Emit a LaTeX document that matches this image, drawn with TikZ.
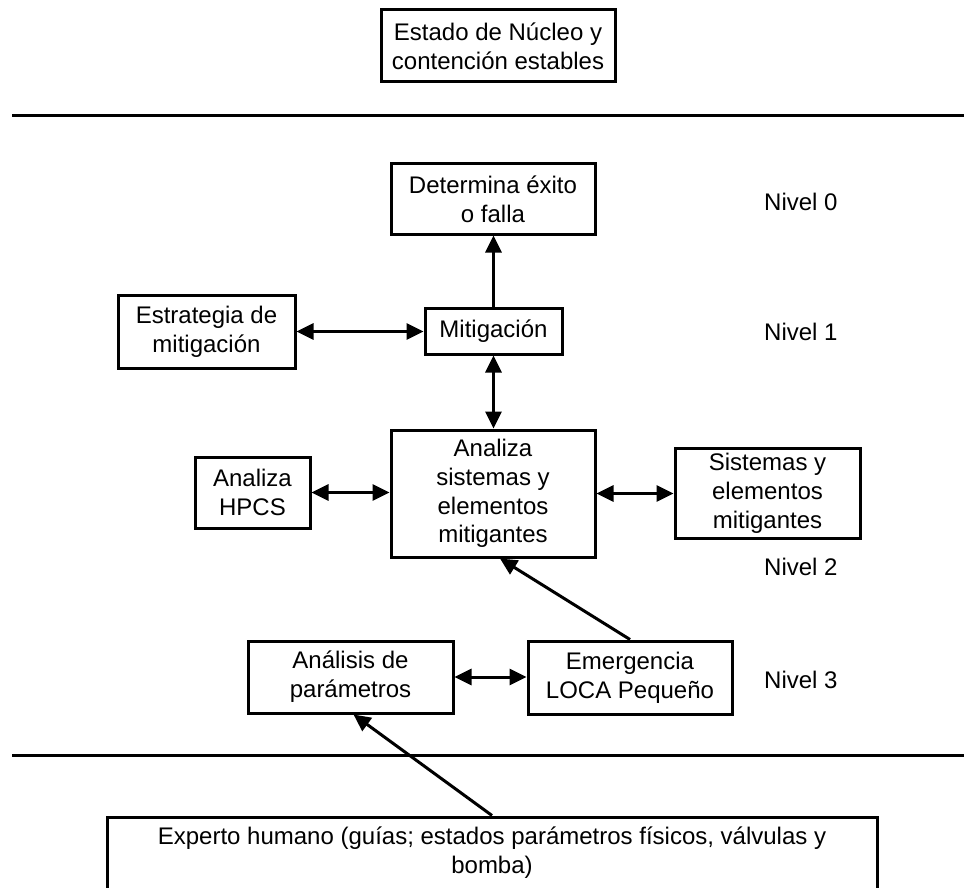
\documentclass[tikz,border=0pt]{standalone}
\usepackage{fontspec}
\setmainfont{Liberation Sans}
\usetikzlibrary{arrows.meta}
\tikzset{
  box/.style={draw, line width=3pt, align=center, inner sep=0pt,
    font=\fontsize{24}{28.8}\selectfont},
  lvl/.style={anchor=west, inner sep=0pt, font=\fontsize{24}{28.8}\selectfont},
  conn/.style={line width=3pt, -{Triangle[length=17pt,width=16pt]}},
  bconn/.style={line width=3pt, {Triangle[length=17pt,width=16pt]}-{Triangle[length=17pt,width=16pt]}},
  sep/.style={line width=3pt}
}
\begin{document}
\begin{tikzpicture}[x=1pt,y=-1pt]
\useasboundingbox (0,0) rectangle (964,888);
\fill[white] (0,0) rectangle (964,888);

\node[box, minimum width=234pt, minimum height=72pt] (top) at (498,46) {Estado de Núcleo y\\contención estables};
\coordinate (l1a) at (12,116);
\coordinate (l1b) at (964,116);
\draw[sep] (l1a) -- (l1b);

\node[box, minimum width=204pt, minimum height=70pt] (det) at (493,199) {Determina éxito\\o falla};
\node[box, minimum width=177pt, minimum height=73pt] (estr) at (206.5,331.5) {Estrategia de\\mitigación};
\node[box, minimum width=137pt, minimum height=46pt] (mit) at (493.5,331) {Mitigación};
\node[box, minimum width=115pt, minimum height=71pt] (hpcs) at (252.5,492.5) {Analiza\\HPCS};
\node[box, minimum width=204pt, minimum height=127pt] (ana) at (493,493.5) {Analiza\\sistemas y\\elementos\\mitigantes};
\node[box, minimum width=185pt, minimum height=90pt] (sis) at (767.5,493) {Sistemas y\\elementos\\mitigantes};
\node[box, minimum width=205pt, minimum height=72pt] (anal) at (350.5,677) {Análisis de\\parámetros};
\node[box, minimum width=204pt, minimum height=73pt] (emer) at (630,677.5) {Emergencia\\LOCA Pequeño};
\node[box, minimum width=770pt, minimum height=72pt] (exp) at (492,853) {Experto humano (guías; estados parámetros físicos, válvulas y\\bomba)};

\node[lvl] (n0) at (764,202) {Nivel 0};
\node[lvl] (n1) at (764,332) {Nivel 1};
\node[lvl] (n2) at (764,567) {Nivel 2};
\node[lvl] (n3) at (764,680) {Nivel 3};

\coordinate (l2a) at (12,755);
\coordinate (l2b) at (964,755);
\draw[sep] (l2a) -- (l2b);

\draw[conn] (mit.north) -- (det.south -| mit.north);
\draw[bconn] (estr.east) -- (mit.west |- estr.east);
\draw[bconn] (mit.south) -- (ana.north -| mit.south);
\draw[bconn] (hpcs.east) -- (ana.west |- hpcs.east);
\draw[bconn] (ana.east) -- (sis.west |- ana.east);
\draw[conn] (emer.north) -- ([xshift=7pt]ana.south);
\draw[bconn] (anal.east) -- (emer.west |- anal.east);
\draw[conn] (exp.north) -- ([xshift=3pt]anal.south);
\end{tikzpicture}
\end{document}
